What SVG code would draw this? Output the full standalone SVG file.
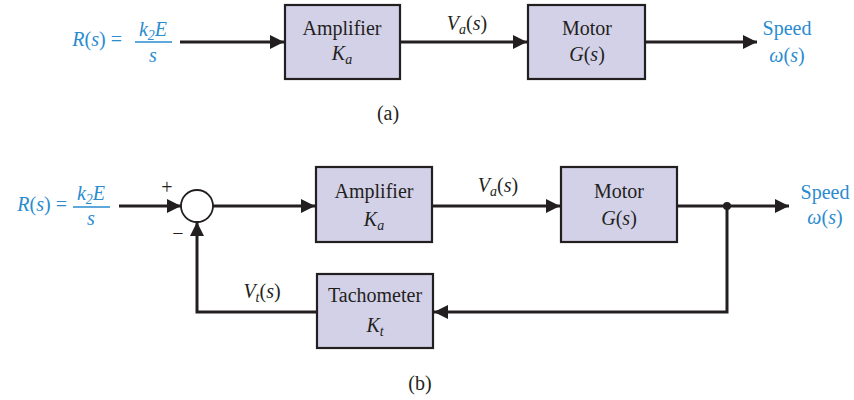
<svg xmlns="http://www.w3.org/2000/svg" width="854" height="400" viewBox="0 0 854 400">
<style>
text{font-family:"Liberation Serif";font-size:20px;fill:#231f20}
.c{text-anchor:middle}
.i{font-style:italic}
.b{fill:#2a8bcf}
.sub{font-size:14px}
.pm{font-size:20px}
.box{fill:#d3d1e8;stroke:#231f20;stroke-width:2.2}
.ln{fill:none;stroke:#231f20;stroke-width:3}
.fr{stroke:#2a8bcf;stroke-width:1.4}
</style>
<defs>
<marker id="ah" viewBox="0 0 14 14" refX="14" refY="7" markerWidth="14" markerHeight="14" markerUnits="userSpaceOnUse" orient="auto">
<path d="M0,0 L14,7 L0,14 Z" fill="#231f20"/>
</marker>
</defs>

<g id="input-a">
<text class="b" x="122" y="46" text-anchor="end"><tspan class="i">R</tspan>(<tspan class="i">s</tspan>) =</text>
<text class="b c i" x="153" y="36">k<tspan class="sub" dy="4">2</tspan><tspan dy="-4">E</tspan></text>
<line class="fr" x1="135" y1="42" x2="172" y2="42"/>
<text class="b c i" x="153" y="62">s</text>
</g>
<g id="amp-a">
<rect class="box" x="285" y="5" width="115" height="74"/>
<text class="c" x="342" y="35">Amplifier</text>
<text class="c i" x="342" y="60">K<tspan class="sub" dy="4">a</tspan></text>
</g>
<g id="motor-a">
<rect class="box" x="528" y="5" width="117" height="74"/>
<text class="c" x="587" y="35">Motor</text>
<text class="c" x="587" y="61"><tspan class="i">G</tspan>(<tspan class="i">s</tspan>)</text>
</g>
<g id="speed-a">
<text class="b c" x="787" y="35">Speed</text>
<text class="b c" x="787" y="62"><tspan class="i">ω</tspan>(<tspan class="i">s</tspan>)</text>
</g>
<g id="label-a">
<text class="c" x="467" y="30"><tspan class="i">V</tspan><tspan class="sub i" dy="4">a</tspan><tspan dy="-4">(</tspan><tspan class="i">s</tspan>)</text>
<text class="c" x="388" y="120">(a)</text>
</g>

<g id="input-b">
<text class="b" x="67" y="211" text-anchor="end"><tspan class="i">R</tspan>(<tspan class="i">s</tspan>) =</text>
<text class="b c i" x="91" y="200">k<tspan class="sub" dy="4">2</tspan><tspan dy="-4">E</tspan></text>
<line class="fr" x1="73" y1="207" x2="110" y2="207"/>
<text class="b c i" x="91" y="225">s</text>
</g>
<g id="sum">
<circle cx="197" cy="206" r="16" fill="#fff" stroke="#231f20" stroke-width="1.8"/>
<text x="167" y="194" class="c pm">+</text>
<text x="178" y="240" class="c pm">−</text>
</g>
<g id="amp-b">
<rect class="box" x="316" y="167" width="116" height="75"/>
<text class="c" x="374" y="198">Amplifier</text>
<text class="c i" x="374" y="226">K<tspan class="sub" dy="4">a</tspan></text>
</g>
<g id="motor-b">
<rect class="box" x="561" y="167" width="116" height="75"/>
<text class="c" x="619" y="198">Motor</text>
<text class="c" x="619" y="225"><tspan class="i">G</tspan>(<tspan class="i">s</tspan>)</text>
</g>
<g id="tach">
<rect class="box" x="317" y="274" width="116" height="74"/>
<text class="c" x="375" y="302">Tachometer</text>
<text class="c i" x="375" y="332">K<tspan class="sub" dy="4">t</tspan></text>
</g>
<g id="speed-b">
<text class="b c" x="825" y="199">Speed</text>
<text class="b c" x="825" y="224"><tspan class="i">ω</tspan>(<tspan class="i">s</tspan>)</text>
</g>
<g id="labels-b">
<text class="c" x="498" y="192"><tspan class="i">V</tspan><tspan class="sub i" dy="4">a</tspan><tspan dy="-4">(</tspan><tspan class="i">s</tspan>)</text>
<text class="c" x="262" y="298"><tspan class="i">V</tspan><tspan class="sub i" dy="4">t</tspan><tspan dy="-4">(</tspan><tspan class="i">s</tspan>)</text>
<text class="c" x="420" y="390">(b)</text>
</g>

<g id="connectors">
<line class="ln" x1="180" y1="42" x2="284" y2="42" marker-end="url(#ah)"/>
<line class="ln" x1="400" y1="42" x2="527" y2="42" marker-end="url(#ah)"/>
<line class="ln" x1="645" y1="42" x2="757" y2="42" marker-end="url(#ah)"/>
<line class="ln" x1="119" y1="206" x2="181" y2="206" marker-end="url(#ah)"/>
<line class="ln" x1="213" y1="206" x2="315" y2="206" marker-end="url(#ah)"/>
<line class="ln" x1="432" y1="206" x2="560" y2="206" marker-end="url(#ah)"/>
<line class="ln" x1="677" y1="206" x2="789" y2="206" marker-end="url(#ah)"/>
<polyline class="ln" points="727,206 727,312 434,312" marker-end="url(#ah)"/>
<polyline class="ln" points="317,312 197,312 197,222" marker-end="url(#ah)"/>
<circle cx="727" cy="206" r="4" fill="#231f20"/>
</g>
</svg>
